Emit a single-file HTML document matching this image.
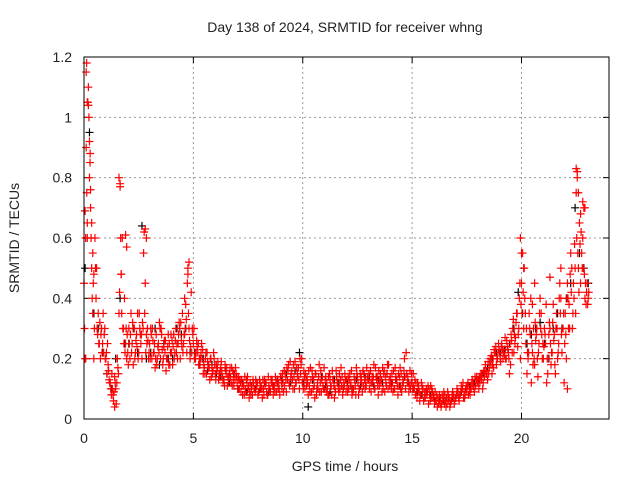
<!DOCTYPE html>
<html><head><meta charset="utf-8"><style>
body{margin:0;background:#fff}
svg text{font-family:"Liberation Sans",sans-serif;fill:#222}
</style></head><body>
<svg id="chart" width="640" height="480" xmlns="http://www.w3.org/2000/svg">
<rect width="640" height="480" fill="#fff"/>
<text x="345" y="32" font-size="14" text-anchor="middle">Day 138 of 2024, SRMTID for receiver whng</text>
<text x="345" y="471" font-size="14" text-anchor="middle">GPS time / hours</text>
<text x="0" y="0" font-size="14" text-anchor="middle" transform="translate(19,238) rotate(-90)">SRMTID / TECUs</text>
<g id="grid"></g>
<g id="ticks"></g>
<g id="black"></g>
<g id="red"></g>
<rect x="84" y="57" width="525" height="362" fill="none" stroke="#000" stroke-width="1"/>
</svg>
<script>
const xTicks=[0,5,10,15,20];
const yTicks=[0,0.2,0.4,0.6,0.8,1,1.2];
const yTickLabels=["0","0.2","0.4","0.6","0.8","1","1.2"];
const redA=[0.45,0.9,1.1,0.7,0.35,0.6,0.3,0.25,0.3,0.22,
0.2,0.18,0.12,0.1,0.14,0.12,0.35,0.48,0.3,0.25,
0.22,0.2,0.25,0.3,0.28,0.22,0.25,0.3,0.45,0.3,
0.25,0.2,0.22,0.28,0.25,0.2,0.18,0.22,0.2,0.25,
0.22,0.28,0.3,0.25,0.2,0.35,0.28,0.22,0.3,0.42,
0.25,0.2,0.22,0.18,0.2,0.17,0.15,0.18,0.2,0.16,
0.15,0.17,0.14,0.16,0.13,0.15,0.12,0.14,0.16,0.13,
0.12,0.1,0.13,0.11,0.09,0.1,0.12,0.08,0.1,0.11,
0.09,0.11,0.1,0.12,0.08,0.1,0.13,0.11,0.09,0.12,
0.14,0.12,0.15,0.13,0.11,0.16,0.14,0.12,0.17,0.15,
0.12,0.1,0.14,0.11,0.09,0.13,0.15,0.1,0.12,0.14,
0.1,0.12,0.08,0.11,0.13,0.09,0.12,0.1,0.14,0.11,
0.13,0.1,0.12,0.09,0.11,0.14,0.1,0.12,0.15,0.11,
0.13,0.16,0.12,0.1,0.14,0.11,0.13,0.15,0.12,0.1,
0.14,0.12,0.1,0.13,0.11,0.15,0.12,0.1,0.14,0.16,
0.12,0.1,0.09,0.11,0.08,0.1,0.07,0.09,0.08,0.1,
0.07,0.06,0.05,0.07,0.06,0.08,0.05,0.07,0.06,0.08,
0.07,0.09,0.08,0.1,0.07,0.09,0.11,0.1,0.12,0.11,
0.13,0.12,0.15,0.14,0.16,0.15,0.18,0.2,0.22,0.2,
0.22,0.25,0.23,0.2,0.22,0.18,0.3,0.25,0.35,0.4,
0.45,0.3,0.25,0.2,0.28,0.22,0.18,0.3,0.25,0.35,
0.2,0.25,0.15,0.3,0.22,0.28,0.35,0.25,0.4,0.3,
0.35,0.45,0.3,0.5,0.4,0.75,0.5,0.45,0.6,0.4,
0.45];
const redB=[0.2,0.65,0.8,0.5,0.2,0.4,0.35,0.2,0.25,0.3,
0.15,0.13,0.08,0.06,0.1,0.17,0.78,0.6,0.4,0.2,
0.3,0.35,0.18,0.22,0.35,0.3,0.2,0.62,0.28,0.2,
0.3,0.26,0.17,0.2,0.32,0.28,0.24,0.16,0.28,0.22,
0.18,0.22,0.25,0.32,0.26,0.25,0.38,0.5,0.2,0.3,
0.2,0.26,0.18,0.22,0.15,0.2,0.19,0.13,0.17,0.2,
0.18,0.13,0.17,0.12,0.18,0.11,0.15,0.17,0.11,0.15,
0.14,0.12,0.08,0.14,0.12,0.07,0.1,0.12,0.13,0.08,
0.12,0.07,0.13,0.09,0.11,0.13,0.08,0.14,0.12,0.08,
0.1,0.16,0.09,0.18,0.14,0.1,0.19,0.15,0.1,0.2,
0.16,0.13,0.08,0.17,0.14,0.07,0.1,0.18,0.09,0.1,
0.14,0.08,0.13,0.16,0.07,0.14,0.09,0.17,0.1,0.13,
0.09,0.15,0.08,0.14,0.17,0.08,0.13,0.16,0.1,0.14,
0.1,0.12,0.18,0.14,0.08,0.15,0.17,0.09,0.15,0.13,
0.1,0.16,0.14,0.08,0.17,0.11,0.2,0.15,0.09,0.12,
0.15,0.08,0.12,0.06,0.11,0.07,0.1,0.05,0.11,0.07,
0.09,0.04,0.08,0.05,0.09,0.04,0.08,0.05,0.09,0.06,
0.1,0.06,0.11,0.07,0.1,0.12,0.08,0.13,0.09,0.14,
0.1,0.15,0.12,0.18,0.13,0.19,0.15,0.23,0.18,0.25,
0.19,0.2,0.27,0.24,0.15,0.26,0.22,0.32,0.28,0.2,
0.55,0.4,0.15,0.35,0.12,0.3,0.26,0.14,0.4,0.2,
0.3,0.12,0.28,0.18,0.38,0.15,0.2,0.45,0.22,0.12,
0.2,0.3,0.55,0.35,0.5,0.82,0.65,0.55,0.7,0.38,
0.4];
const redC=[0.3,0.75,1.0,0.6,0.45,0.5,0.28,0.32,0.22,0.28,
0.22,0.16,0.1,0.08,0.12,0.2,0.42,0.35,0.25,0.3,
0.18,0.28,0.32,0.2,0.24,0.35,0.28,0.55,0.22,0.26,
0.2,0.3,0.25,0.18,0.22,0.3,0.2,0.26,0.24,0.18,
0.26,0.2,0.22,0.28,0.32,0.22,0.3,0.45,0.26,0.22,
0.3,0.22,0.25,0.2,0.23,0.15,0.22,0.17,0.14,0.22,
0.13,0.19,0.16,0.14,0.11,0.17,0.14,0.12,0.13,0.17,
0.1,0.13,0.11,0.08,0.13,0.11,0.08,0.13,0.09,0.12,
0.13,0.1,0.08,0.12,0.14,0.09,0.11,0.09,0.13,0.1,
0.12,0.09,0.13,0.16,0.19,0.13,0.1,0.17,0.13,0.18,
0.1,0.15,0.12,0.09,0.16,0.11,0.08,0.14,0.16,0.11,
0.13,0.1,0.15,0.08,0.11,0.16,0.1,0.13,0.08,0.15,
0.11,0.13,0.16,0.1,0.08,0.12,0.15,0.09,0.13,0.17,
0.15,0.09,0.14,0.17,0.11,0.13,0.09,0.16,0.11,0.18,
0.12,0.09,0.17,0.11,0.14,0.09,0.16,0.22,0.12,0.1,
0.1,0.13,0.07,0.09,0.12,0.06,0.09,0.11,0.06,0.09,
0.05,0.08,0.06,0.04,0.07,0.06,0.09,0.04,0.08,0.05,
0.08,0.07,0.09,0.12,0.08,0.11,0.09,0.12,0.1,0.13,
0.12,0.14,0.1,0.16,0.15,0.17,0.21,0.17,0.24,0.22,
0.2,0.23,0.21,0.26,0.2,0.28,0.33,0.27,0.24,0.45,
0.35,0.5,0.3,0.22,0.4,0.18,0.32,0.2,0.35,0.28,
0.24,0.38,0.2,0.25,0.32,0.18,0.3,0.4,0.28,0.35,
0.28,0.4,0.48,0.3,0.58,0.6,0.42,0.62,0.5,0.45,
0.38];
const redD=[0.6,1.05,0.85,0.4,0.3,0.5,0.25,0.28,0.35,0.2,
0.25,0.12,0.15,0.09,0.05,0.15,0.6,0.3,0.22,0.28,
0.25,0.22,0.3,0.26,0.2,0.28,0.32,0.35,0.25,0.22,
0.28,0.22,0.2,0.24,0.3,0.23,0.26,0.2,0.18,0.28,
0.24,0.26,0.2,0.3,0.24,0.28,0.33,0.35,0.24,0.28,
0.22,0.24,0.2,0.25,0.18,0.22,0.17,0.2,0.15,0.18,
0.16,0.15,0.19,0.13,0.16,0.14,0.17,0.11,0.15,0.14,
0.13,0.09,0.12,0.1,0.14,0.09,0.11,0.1,0.12,0.09,
0.1,0.13,0.11,0.08,0.1,0.12,0.1,0.12,0.1,0.14,
0.15,0.11,0.17,0.12,0.15,0.18,0.12,0.14,0.2,0.12,
0.14,0.11,0.16,0.13,0.1,0.15,0.12,0.09,0.13,0.17,
0.09,0.14,0.11,0.13,0.1,0.12,0.15,0.11,0.12,0.09,
0.14,0.11,0.1,0.13,0.15,0.1,0.14,0.11,0.12,0.13,
0.12,0.14,0.1,0.13,0.16,0.12,0.1,0.14,0.18,0.11,
0.15,0.1,0.13,0.15,0.1,0.13,0.14,0.12,0.11,0.15,
0.11,0.12,0.1,0.08,0.1,0.09,0.08,0.1,0.07,0.08,
0.06,0.07,0.05,0.08,0.05,0.07,0.06,0.06,0.07,0.07,
0.09,0.08,0.1,0.09,0.11,0.08,0.1,0.11,0.14,0.12,
0.14,0.13,0.16,0.15,0.19,0.2,0.18,0.22,0.2,0.23,
0.24,0.22,0.2,0.23,0.25,0.22,0.28,0.35,0.3,0.38,
0.42,0.35,0.22,0.3,0.25,0.2,0.28,0.22,0.3,0.25,
0.28,0.2,0.32,0.22,0.26,0.3,0.22,0.35,0.3,0.25,
0.4,0.38,0.42,0.45,0.35,0.55,0.58,0.5,0.48,0.42,
0.42];
const blackVals=[0.5,0.95,0.35,0.3,0.22,
0.15,0.1,0.2,0.4,0.25,
0.25,0.3,0.22,0.64,0.2,
0.22,0.3,0.18,0.25,0.2,
0.2,0.3,0.28,0.3,0.22,
0.22,0.18,0.2,0.16,0.18,
0.15,0.14,0.17,0.12,0.15,
0.1,0.12,0.09,0.11,0.1,
0.1,0.12,0.09,0.11,0.13,
0.13,0.15,0.12,0.16,0.22,
0.12,0.04,0.13,0.1,0.14,
0.11,0.09,0.13,0.12,0.1,
0.12,0.1,0.13,0.11,0.14,
0.14,0.11,0.13,0.12,0.15,
0.12,0.13,0.11,0.14,0.12,
0.1,0.09,0.08,0.09,0.08,
0.06,0.07,0.06,0.07,0.07,
0.08,0.09,0.1,0.11,0.12,
0.13,0.15,0.17,0.2,0.22,
0.22,0.23,0.25,0.3,0.42,
0.35,0.25,0.28,0.3,0.32,
0.25,0.2,0.3,0.35,0.3,
0.4,0.45,0.7,0.55,0.5,
0.45];
const spikeTimes=[0.05,0.1,0.12,0.15,0.2,0.25,0.28,0.3,0.35,0.4,0.08,0.15,0.45,1.6,1.65,1.7,1.9,1.95,2.8,2.85,4.6,4.8,4.75,1.4,19.95,20.0,20.1,22.5,22.55,22.6,22.8,22.9,22.7,21.3,21.8,22.1,20.6,20.5];
const spikeVals=[0.69,1.15,1.18,1.05,1.04,0.92,0.88,0.76,0.65,0.55,0.2,0.6,0.48,0.8,0.77,0.48,0.61,0.57,0.63,0.6,0.4,0.52,0.48,0.04,0.6,0.55,0.5,0.83,0.8,0.75,0.72,0.7,0.68,0.47,0.5,0.1,0.45,0.38];

const NS="http://www.w3.org/2000/svg";
const X0=84,X1=609,Y0=419,Y1=57,XMAX=24,YMAX=1.2;
function xs(t){return X0+(X1-X0)*t/XMAX;}
function ys(v){return Y0-(Y0-Y1)*v/YMAX;}
const grid=document.getElementById('grid'),ticks=document.getElementById('ticks');
function mk(tag,attrs,parent){const e=document.createElementNS(NS,tag);for(const k in attrs)e.setAttribute(k,attrs[k]);parent.appendChild(e);return e;}
xTicks.forEach(t=>{
  const x=xs(t);
  if(t>0){const g=mk('line',{x1:x,x2:x,y1:Y1,y2:Y0,stroke:'#999','stroke-dasharray':'2,3'},grid);
  
  }
  mk('line',{x1:x,x2:x,y1:Y0,y2:Y0-6,stroke:'#000'},grid);
  mk('line',{x1:x,x2:x,y1:Y1,y2:Y1+6,stroke:'#000'},grid);
  const tx=mk('text',{x:x,y:443,'font-size':14,'text-anchor':'middle'},ticks);
  tx.textContent=String(t);
  
  
});
yTicks.forEach((v,i)=>{
  const y=ys(v);
  if(v>0&&v<YMAX){const g=mk('line',{x1:X0,x2:X1,y1:y,y2:y,stroke:'#999','stroke-dasharray':'2,3'},grid);
  
  }
  mk('line',{x1:X0,x2:X0+6,y1:y,y2:y,stroke:'#000'},grid);
  mk('line',{x1:X1,x2:X1-6,y1:y,y2:y,stroke:'#000'},grid);
  const tx=mk('text',{x:72,y:y+5,'font-size':14,'text-anchor':'end'},ticks);
  tx.textContent=yTickLabels[i];
  
  
});
function plus(parent,t,v,color,name){
  const x=xs(t),y=ys(v);
  const p=mk('path',{d:`M${x-4} ${y}H${x+4}M${x} ${y-4}V${y+4}`,stroke:color,'stroke-width':1.2,fill:'none'},parent);
  
  
}
const bg=document.getElementById('black'),rg=document.getElementById('red');
blackVals.forEach((v,i)=>plus(bg,i*0.2+0.05,v,'#000','black-point'));
redA.forEach((v,i)=>plus(rg,i*0.1,v,'#f00','red-point'));
redB.forEach((v,i)=>plus(rg,i*0.1+0.05,v,'#f00','red-point'));
redC.forEach((v,i)=>plus(rg,i*0.1+0.025,v,'#f00','red-point'));
redD.forEach((v,i)=>plus(rg,i*0.1+0.075,v,'#f00','red-point'));
spikeVals.forEach((v,i)=>plus(rg,spikeTimes[i],v,'#f00','red-point'));
</script>
</body></html>
